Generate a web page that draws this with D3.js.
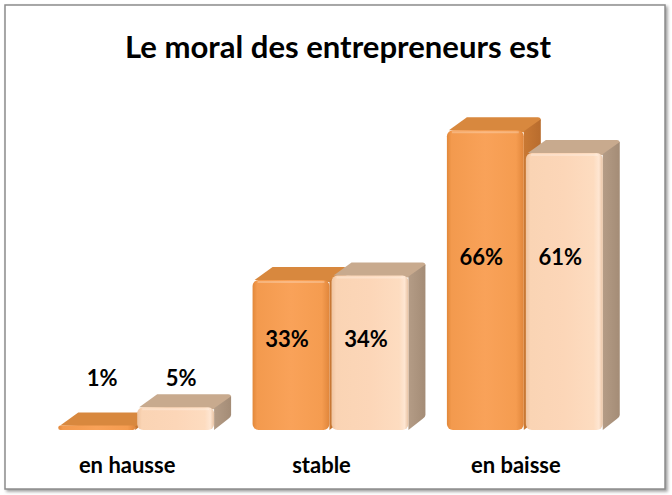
<!DOCTYPE html>
<html>
<head>
<meta charset="utf-8">
<script src="https://cdn.jsdelivr.net/npm/d3@7"></script>
<style>
  body { margin: 0; background: #fff; }
  text { font-family: Lato, "Open Sans", sans-serif; font-weight: bold; fill: #000; }
</style>
</head>
<body>
<script>
var width = 672, height = 495;
var depthX = 17, depthY = 13;

const categories = ["en hausse", "stable", "en baisse"];
const seriesNames = ["orange", "beige"];
const orangeValues = [1, 33, 66];
const beigeValues = [5, 34, 61];
const title = "Le moral des entrepreneurs est";

const svg = d3.select("body").append("svg")
  .attr("width", width)
  .attr("height", height);

const defs = svg.append("defs");

// frame shadow
const shadow = defs.append("filter").attr("id", "shadow")
  .attr("x", "-5%").attr("y", "-5%").attr("width", "110%").attr("height", "110%");
shadow.append("feDropShadow").attr("dx", 2).attr("dy", 2)
  .attr("stdDeviation", 1.5).attr("flood-color", "#777").attr("flood-opacity", 0.7);

function hGrad(id, stops) {
  const g = defs.append("linearGradient").attr("id", id)
    .attr("x1", 0).attr("x2", 1).attr("y1", 0).attr("y2", 0);
  stops.forEach(s => g.append("stop").attr("offset", s[0]).attr("stop-color", s[1]));
}
hGrad("frontOrange", [[0, "#E2883A"], [0.06, "#F39A4E"], [0.5, "#F9A259"], [0.9, "#F59C50"], [1, "#E0863B"]]);
hGrad("frontBeige", [[0, "#EFC4A0"], [0.06, "#FAD4B4"], [0.5, "#FCD6B8"], [0.88, "#FDDCC0"], [0.95, "#FEE6D2"], [1, "#E8C2A2"]]);
hGrad("sideOrange", [[0, "#C97934"], [1, "#B86C2D"]]);
hGrad("sideBeige", [[0, "#B49C86"], [1, "#A48C76"]]);

const colors = {
  orange: { front: "url(#frontOrange)", top: "#D8883E", side: "url(#sideOrange)" },
  beige: { front: "url(#frontBeige)", top: "#C8AA8E", side: "url(#sideBeige)" }
};

svg.append("rect")
  .attr("x", 5).attr("y", 5).attr("width", 660).attr("height", 484)
  .attr("fill", "#fff").attr("stroke", "#8c8c8c").attr("stroke-width", 1.5)
  .attr("filter", "url(#shadow)");

svg.append("text")
  .attr("x", 338).attr("y", 58)
  .attr("text-anchor", "middle")
  .attr("font-size", 30)
  .attr("textLength", 426).attr("lengthAdjust", "spacingAndGlyphs")
  .text(title);

const x0 = d3.scaleBand().domain(categories).range([39, 622])
  .paddingInner(0.198).paddingOuter(0.099);
const x1 = d3.scaleBand().domain(seriesNames).range([0, x0.bandwidth()]).paddingInner(0.026);
const y = d3.scaleLinear().domain([0, 70]).range([430, 112]);

const data = [];
categories.forEach((c, i) => {
  const mean = (orangeValues[i] + beigeValues[i]) / 2;
  data.push({ cat: c, s: "orange", v: orangeValues[i], mean: mean });
  data.push({ cat: c, s: "beige", v: beigeValues[i], mean: mean });
});

const bars = svg.append("g").selectAll("g")
  .data(data)
  .join("g");

bars.each(function(d) {
  const g = d3.select(this);
  const xl = x0(d.cat) + x1(d.s), w = x1.bandwidth();
  const yt = y(d.v), yb = y(0);
  const c = colors[d.s];
  const r = Math.min(6, (yb - yt) / 2);
  // top face
  g.append("path")
    .attr("d", `M${xl + 2},${yt} L${xl + depthX + 3},${yt - depthY} L${xl + w + depthX - 3},${yt - depthY}
      Q${xl + w + depthX},${yt - depthY} ${xl + w + depthX},${yt - depthY + 3} L${xl + w},${yt + 2} Z`)
    .attr("fill", c.top);
  // side face
  g.append("path")
    .attr("d", `M${xl + w},${yt + 1} L${xl + w + depthX},${yt - depthY + 2} L${xl + w + depthX},${yb - depthY - 2}
      Q${xl + w + depthX},${yb - depthY} ${xl + w + depthX - 3},${yb - depthY + 2} L${xl + w},${yb} Z`)
    .attr("fill", c.side);
  // front face
  g.append("rect")
    .attr("x", xl).attr("y", yt).attr("width", w).attr("height", yb - yt)
    .attr("rx", r).attr("ry", r)
    .attr("fill", c.front);
  // top highlight
  if (yb - yt > 10) {
    g.append("line")
      .attr("x1", xl + 5).attr("x2", xl + w - 5)
      .attr("y1", yt + 2).attr("y2", yt + 2)
      .attr("stroke", "#fff").attr("stroke-opacity", 0.25).attr("stroke-width", 2);
  }
});

// value labels
bars.append("text")
  .attr("text-anchor", "middle")
  .attr("font-size", 22)
  .attr("x", d => {
    const cx = x0(d.cat) + x1(d.s) + x1.bandwidth() / 2;
    return (y(0) - y(d.v) < 40) ? cx + depthX / 2 - 3 : cx - 4;
  })
  .attr("y", d => (y(0) - y(d.v) < 40) ? y(0) - 44 : y(d.mean * 0.6) + 8)
  .text(d => d.v + "%");

// category labels
svg.append("g").selectAll("text")
  .data(categories)
  .join("text")
  .attr("text-anchor", "middle")
  .attr("font-size", 22)
  .attr("x", d => x0(d) + x0.bandwidth() / 2 - 9)
  .attr("y", 473)
  .text(d => d);
</script>
</body>
</html>
